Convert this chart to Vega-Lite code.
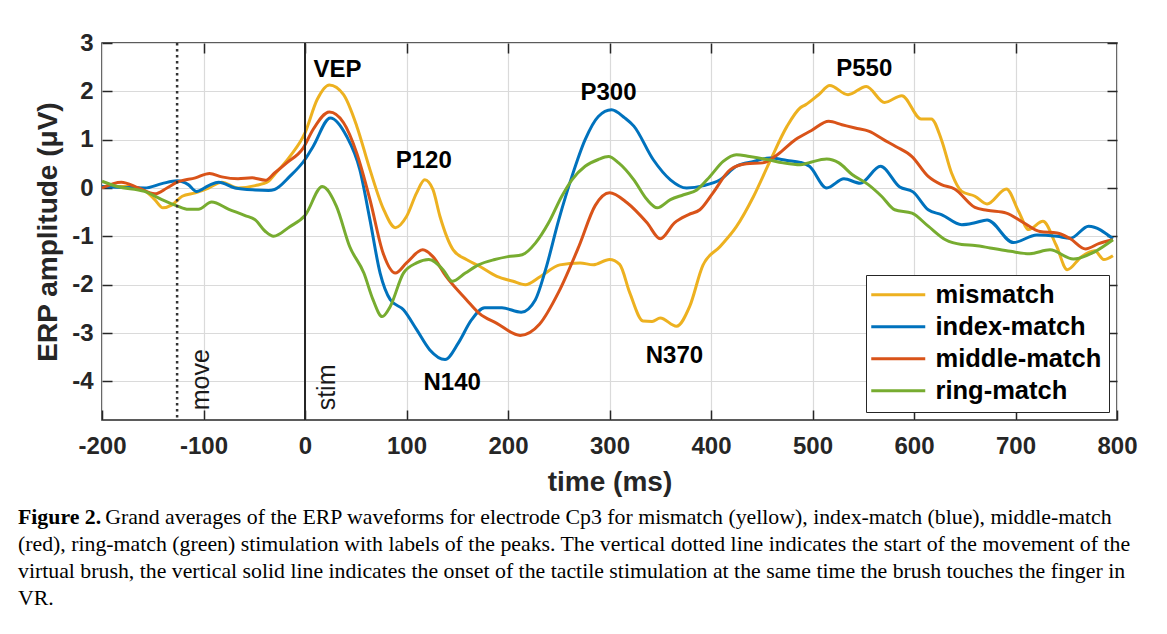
{
  "$schema": "https://vega.github.io/schema/vega-lite/v6.json",
  "autosize": "none",
  "width": 1015,
  "height": 377,
  "padding": {"left": 102, "top": 43, "right": 50, "bottom": 214},
  "background": "white",
  "config": {
    "view": {"stroke": "#262626", "strokeWidth": 1.5},
    "axis": {
      "labelFont": "Liberation Sans", "labelFontWeight": "bold", "labelFontSize": 24, "labelColor": "#262626",
      "titleFont": "Liberation Sans", "titleFontWeight": "bold", "titleFontSize": 28, "titleColor": "#262626",
      "tickColor": "#262626", "tickSize": -10, "tickWidth": 1.5, "domain": false,
      "gridColor": "#dadada", "gridWidth": 1.2, "labelFlush": false, "labelOverlap": false,
      "labelExpr": "replace(datum.label, '−', '-')"
    },
    "legend": {
      "orient": "bottom-right", "offset": 8,
      "labelFont": "Liberation Sans", "labelFontWeight": "bold", "labelFontSize": 25.5, "labelColor": "#000000", "labelLimit": 400,
      "symbolType": "M-1.45,0H3.95", "symbolSize": 400, "symbolStrokeWidth": 3,
      "fillColor": "white", "strokeColor": "#262626",
      "padding": 7, "rowPadding": 5, "labelOffset": 37
    }
  },
  "title": {
    "text": "Figure 2.",
    "subtitle": [
      "\u200b\u00a0\u00a0\u00a0\u00a0\u00a0\u00a0\u00a0\u00a0\u00a0\u00a0\u00a0\u00a0\u00a0\u00a0\u00a0\u00a0Grand averages of the ERP waveforms for electrode Cp3 for mismatch (yellow), index-match (blue), middle-match",
      "(red), ring-match (green) stimulation with labels of the peaks. The vertical dotted line indicates the start of the movement of the",
      "virtual brush, the vertical solid line indicates the onset of the tactile stimulation at the same time the brush touches the finger in",
      "VR."
    ],
    "orient": "bottom", "anchor": "start", "frame": "group", "dx": -84, "offset": 11,
    "font": "Liberation Serif", "fontSize": 21.8, "fontWeight": "bold", "color": "#000000",
    "subtitleFont": "Liberation Serif", "subtitleFontSize": 21.8, "subtitleFontWeight": "normal", "subtitleColor": "#000000",
    "subtitleLineHeight": 27, "subtitlePadding": -21.8
  },
  "datasets": {
    "erp": [
      {"series":"mismatch","t":-200,"v":0.03},{"series":"mismatch","t":-174,"v":0.03},{"series":"mismatch","t":-157,"v":-0.07},{"series":"mismatch","t":-148,"v":-0.24},{"series":"mismatch","t":-140,"v":-0.41},{"series":"mismatch","t":-131,"v":-0.35},{"series":"mismatch","t":-121,"v":-0.17},{"series":"mismatch","t":-108,"v":-0.1},{"series":"mismatch","t":-95,"v":0.0},{"series":"mismatch","t":-82,"v":0.12},{"series":"mismatch","t":-66,"v":0.0},{"series":"mismatch","t":-49,"v":0.05},{"series":"mismatch","t":-36,"v":0.14},{"series":"mismatch","t":-30,"v":0.28},{"series":"mismatch","t":-15,"v":0.65},{"series":"mismatch","t":0,"v":1.14},{"series":"mismatch","t":12,"v":1.83},{"series":"mismatch","t":24,"v":2.13},{"series":"mismatch","t":38,"v":1.93},{"series":"mismatch","t":51,"v":1.28},{"series":"mismatch","t":64,"v":0.38},{"series":"mismatch","t":77,"v":-0.42},{"series":"mismatch","t":89,"v":-0.82},{"series":"mismatch","t":100,"v":-0.59},{"series":"mismatch","t":110,"v":-0.1},{"series":"mismatch","t":118,"v":0.17},{"series":"mismatch","t":126,"v":-0.03},{"series":"mismatch","t":133,"v":-0.59},{"series":"mismatch","t":146,"v":-1.28},{"series":"mismatch","t":159,"v":-1.48},{"series":"mismatch","t":172,"v":-1.62},{"series":"mismatch","t":189,"v":-1.83},{"series":"mismatch","t":205,"v":-1.93},{"series":"mismatch","t":217,"v":-2.0},{"series":"mismatch","t":232,"v":-1.83},{"series":"mismatch","t":251,"v":-1.59},{"series":"mismatch","t":271,"v":-1.55},{"series":"mismatch","t":284,"v":-1.59},{"series":"mismatch","t":300,"v":-1.48},{"series":"mismatch","t":310,"v":-1.58},{"series":"mismatch","t":320,"v":-2.17},{"series":"mismatch","t":333,"v":-2.75},{"series":"mismatch","t":342,"v":-2.76},{"series":"mismatch","t":350,"v":-2.69},{"series":"mismatch","t":366,"v":-2.86},{"series":"mismatch","t":379,"v":-2.45},{"series":"mismatch","t":392,"v":-1.6},{"series":"mismatch","t":409,"v":-1.21},{"series":"mismatch","t":425,"v":-0.8},{"series":"mismatch","t":442,"v":-0.17},{"series":"mismatch","t":458,"v":0.55},{"series":"mismatch","t":475,"v":1.28},{"series":"mismatch","t":488,"v":1.66},{"series":"mismatch","t":493,"v":1.72},{"series":"mismatch","t":506,"v":1.93},{"series":"mismatch","t":517,"v":2.12},{"series":"mismatch","t":535,"v":1.93},{"series":"mismatch","t":553,"v":2.1},{"series":"mismatch","t":571,"v":1.77},{"series":"mismatch","t":588,"v":1.91},{"series":"mismatch","t":607,"v":1.43},{"series":"mismatch","t":617,"v":1.43},{"series":"mismatch","t":627,"v":1.0},{"series":"mismatch","t":637,"v":0.31},{"series":"mismatch","t":647,"v":-0.07},{"series":"mismatch","t":660,"v":-0.17},{"series":"mismatch","t":672,"v":-0.33},{"series":"mismatch","t":691,"v":-0.02},{"series":"mismatch","t":703,"v":-0.48},{"series":"mismatch","t":713,"v":-0.86},{"series":"mismatch","t":727,"v":-0.69},{"series":"mismatch","t":740,"v":-1.18},{"series":"mismatch","t":751,"v":-1.69},{"series":"mismatch","t":765,"v":-1.42},{"series":"mismatch","t":778,"v":-1.3},{"series":"mismatch","t":787,"v":-1.48},{"series":"mismatch","t":796,"v":-1.4},

      {"series":"index-match","t":-200,"v":0.03},{"series":"index-match","t":-158,"v":0.0},{"series":"index-match","t":-141,"v":0.09},{"series":"index-match","t":-126,"v":0.15},{"series":"index-match","t":-115,"v":0.07},{"series":"index-match","t":-107,"v":-0.07},{"series":"index-match","t":-95,"v":0.05},{"series":"index-match","t":-85,"v":0.12},{"series":"index-match","t":-69,"v":0.0},{"series":"index-match","t":-49,"v":-0.04},{"series":"index-match","t":-36,"v":-0.05},{"series":"index-match","t":-30,"v":-0.03},{"series":"index-match","t":-15,"v":0.24},{"series":"index-match","t":0,"v":0.59},{"series":"index-match","t":8,"v":0.86},{"series":"index-match","t":25,"v":1.45},{"series":"index-match","t":41,"v":1.07},{"series":"index-match","t":54,"v":0.38},{"series":"index-match","t":64,"v":-0.66},{"series":"index-match","t":74,"v":-1.76},{"series":"index-match","t":84,"v":-2.31},{"series":"index-match","t":97,"v":-2.52},{"series":"index-match","t":110,"v":-2.93},{"series":"index-match","t":123,"v":-3.35},{"series":"index-match","t":138,"v":-3.55},{"series":"index-match","t":151,"v":-3.21},{"series":"index-match","t":164,"v":-2.73},{"series":"index-match","t":177,"v":-2.48},{"series":"index-match","t":194,"v":-2.48},{"series":"index-match","t":213,"v":-2.57},{"series":"index-match","t":227,"v":-2.31},{"series":"index-match","t":237,"v":-1.69},{"series":"index-match","t":250,"v":-0.66},{"series":"index-match","t":263,"v":0.24},{"series":"index-match","t":276,"v":1.0},{"series":"index-match","t":289,"v":1.48},{"series":"index-match","t":302,"v":1.62},{"series":"index-match","t":315,"v":1.45},{"series":"index-match","t":324,"v":1.28},{"series":"index-match","t":343,"v":0.59},{"series":"index-match","t":360,"v":0.17},{"series":"index-match","t":376,"v":0.0},{"series":"index-match","t":393,"v":0.05},{"series":"index-match","t":409,"v":0.17},{"series":"index-match","t":425,"v":0.45},{"series":"index-match","t":442,"v":0.55},{"series":"index-match","t":458,"v":0.62},{"series":"index-match","t":475,"v":0.57},{"series":"index-match","t":488,"v":0.53},{"series":"index-match","t":497,"v":0.45},{"series":"index-match","t":514,"v":0.0},{"series":"index-match","t":531,"v":0.19},{"series":"index-match","t":547,"v":0.1},{"series":"index-match","t":567,"v":0.45},{"series":"index-match","t":586,"v":0.02},{"series":"index-match","t":599,"v":-0.08},{"series":"index-match","t":614,"v":-0.45},{"series":"index-match","t":627,"v":-0.55},{"series":"index-match","t":647,"v":-0.76},{"series":"index-match","t":660,"v":-0.72},{"series":"index-match","t":672,"v":-0.66},{"series":"index-match","t":698,"v":-1.13},{"series":"index-match","t":721,"v":-0.97},{"series":"index-match","t":741,"v":-1.0},{"series":"index-match","t":754,"v":-1.04},{"series":"index-match","t":772,"v":-0.79},{"series":"index-match","t":796,"v":-1.05},

      {"series":"middle-match","t":-200,"v":0.0},{"series":"middle-match","t":-181,"v":0.12},{"series":"middle-match","t":-164,"v":0.0},{"series":"middle-match","t":-148,"v":-0.12},{"series":"middle-match","t":-136,"v":0.0},{"series":"middle-match","t":-126,"v":0.12},{"series":"middle-match","t":-108,"v":0.21},{"series":"middle-match","t":-94,"v":0.3},{"series":"middle-match","t":-82,"v":0.23},{"series":"middle-match","t":-66,"v":0.19},{"series":"middle-match","t":-52,"v":0.21},{"series":"middle-match","t":-39,"v":0.16},{"series":"middle-match","t":-30,"v":0.31},{"series":"middle-match","t":-18,"v":0.52},{"series":"middle-match","t":-2,"v":0.82},{"series":"middle-match","t":8,"v":1.21},{"series":"middle-match","t":24,"v":1.57},{"series":"middle-match","t":38,"v":1.35},{"series":"middle-match","t":51,"v":0.72},{"series":"middle-match","t":64,"v":-0.24},{"series":"middle-match","t":77,"v":-1.35},{"series":"middle-match","t":89,"v":-1.76},{"series":"middle-match","t":100,"v":-1.55},{"series":"middle-match","t":116,"v":-1.28},{"series":"middle-match","t":126,"v":-1.42},{"series":"middle-match","t":139,"v":-1.83},{"series":"middle-match","t":159,"v":-2.31},{"series":"middle-match","t":172,"v":-2.6},{"series":"middle-match","t":189,"v":-2.8},{"series":"middle-match","t":212,"v":-3.05},{"series":"middle-match","t":231,"v":-2.82},{"series":"middle-match","t":250,"v":-2.15},{"series":"middle-match","t":270,"v":-1.2},{"series":"middle-match","t":286,"v":-0.36},{"series":"middle-match","t":300,"v":-0.1},{"series":"middle-match","t":317,"v":-0.3},{"series":"middle-match","t":337,"v":-0.72},{"series":"middle-match","t":350,"v":-1.05},{"series":"middle-match","t":364,"v":-0.72},{"series":"middle-match","t":378,"v":-0.55},{"series":"middle-match","t":389,"v":-0.45},{"series":"middle-match","t":402,"v":-0.1},{"series":"middle-match","t":419,"v":0.38},{"series":"middle-match","t":435,"v":0.5},{"series":"middle-match","t":451,"v":0.52},{"series":"middle-match","t":466,"v":0.7},{"series":"middle-match","t":483,"v":1.0},{"series":"middle-match","t":499,"v":1.19},{"series":"middle-match","t":516,"v":1.38},{"series":"middle-match","t":529,"v":1.31},{"series":"middle-match","t":542,"v":1.24},{"series":"middle-match","t":556,"v":1.17},{"series":"middle-match","t":570,"v":1.0},{"series":"middle-match","t":582,"v":0.86},{"series":"middle-match","t":598,"v":0.65},{"series":"middle-match","t":614,"v":0.24},{"series":"middle-match","t":627,"v":0.07},{"series":"middle-match","t":640,"v":-0.02},{"series":"middle-match","t":660,"v":-0.4},{"series":"middle-match","t":672,"v":-0.46},{"series":"middle-match","t":691,"v":-0.52},{"series":"middle-match","t":708,"v":-0.72},{"series":"middle-match","t":724,"v":-0.9},{"series":"middle-match","t":741,"v":-0.93},{"series":"middle-match","t":754,"v":-1.05},{"series":"middle-match","t":769,"v":-1.26},{"series":"middle-match","t":782,"v":-1.15},{"series":"middle-match","t":796,"v":-1.07},

      {"series":"ring-match","t":-200,"v":0.14},{"series":"ring-match","t":-185,"v":0.03},{"series":"ring-match","t":-158,"v":-0.07},{"series":"ring-match","t":-141,"v":-0.24},{"series":"ring-match","t":-126,"v":-0.37},{"series":"ring-match","t":-115,"v":-0.44},{"series":"ring-match","t":-105,"v":-0.44},{"series":"ring-match","t":-92,"v":-0.29},{"series":"ring-match","t":-75,"v":-0.44},{"series":"ring-match","t":-59,"v":-0.57},{"series":"ring-match","t":-49,"v":-0.66},{"series":"ring-match","t":-39,"v":-0.9},{"series":"ring-match","t":-31,"v":-1.0},{"series":"ring-match","t":-15,"v":-0.8},{"series":"ring-match","t":0,"v":-0.57},{"series":"ring-match","t":17,"v":0.03},{"series":"ring-match","t":31,"v":-0.38},{"series":"ring-match","t":44,"v":-1.21},{"series":"ring-match","t":58,"v":-1.76},{"series":"ring-match","t":67,"v":-2.31},{"series":"ring-match","t":76,"v":-2.66},{"series":"ring-match","t":84,"v":-2.45},{"series":"ring-match","t":97,"v":-1.76},{"series":"ring-match","t":110,"v":-1.55},{"series":"ring-match","t":122,"v":-1.48},{"series":"ring-match","t":136,"v":-1.69},{"series":"ring-match","t":145,"v":-1.93},{"series":"ring-match","t":158,"v":-1.76},{"series":"ring-match","t":171,"v":-1.59},{"series":"ring-match","t":187,"v":-1.48},{"series":"ring-match","t":200,"v":-1.42},{"series":"ring-match","t":214,"v":-1.38},{"series":"ring-match","t":227,"v":-1.14},{"series":"ring-match","t":240,"v":-0.72},{"series":"ring-match","t":253,"v":-0.17},{"series":"ring-match","t":263,"v":0.17},{"series":"ring-match","t":276,"v":0.45},{"series":"ring-match","t":289,"v":0.59},{"series":"ring-match","t":299,"v":0.65},{"series":"ring-match","t":309,"v":0.52},{"series":"ring-match","t":324,"v":0.17},{"series":"ring-match","t":337,"v":-0.24},{"series":"ring-match","t":347,"v":-0.41},{"series":"ring-match","t":360,"v":-0.24},{"series":"ring-match","t":373,"v":-0.14},{"series":"ring-match","t":386,"v":-0.04},{"series":"ring-match","t":399,"v":0.24},{"series":"ring-match","t":412,"v":0.55},{"series":"ring-match","t":425,"v":0.69},{"series":"ring-match","t":438,"v":0.65},{"series":"ring-match","t":455,"v":0.59},{"series":"ring-match","t":471,"v":0.52},{"series":"ring-match","t":488,"v":0.48},{"series":"ring-match","t":496,"v":0.52},{"series":"ring-match","t":514,"v":0.6},{"series":"ring-match","t":526,"v":0.52},{"series":"ring-match","t":539,"v":0.28},{"series":"ring-match","t":555,"v":0.07},{"series":"ring-match","t":568,"v":-0.17},{"series":"ring-match","t":581,"v":-0.45},{"series":"ring-match","t":598,"v":-0.52},{"series":"ring-match","t":614,"v":-0.79},{"series":"ring-match","t":631,"v":-1.07},{"series":"ring-match","t":647,"v":-1.17},{"series":"ring-match","t":660,"v":-1.19},{"series":"ring-match","t":675,"v":-1.24},{"series":"ring-match","t":695,"v":-1.31},{"series":"ring-match","t":714,"v":-1.36},{"series":"ring-match","t":734,"v":-1.28},{"series":"ring-match","t":757,"v":-1.47},{"series":"ring-match","t":777,"v":-1.33},{"series":"ring-match","t":796,"v":-1.07}
    ],
    "peaks": [
      {"label":"VEP","t":32,"v":2.45},{"label":"P120","t":117,"v":0.55},{"label":"N140","t":145,"v":-4.03},
      {"label":"P300","t":299,"v":1.97},{"label":"N370","t":364,"v":-3.47},{"label":"P550","t":551,"v":2.46}
    ],
    "events": [
      {"event":"move","t":-126,"v":-4.6,"tl":-102},
      {"event":"stim","t":0,"v":-4.6,"tl":22}
    ]
  },
  "layer": [
    {
      "data": {"name": "erp"},
      "mark": {"type": "line", "strokeWidth": 3, "interpolate": "monotone"},
      "encoding": {
        "x": {"field": "t", "type": "quantitative", "scale": {"domain": [-200, 800], "nice": false},
              "axis": {"orient": "bottom", "values": [-200,-100,0,100,200,300,400,500,600,700,800], "title": "time (ms)", "grid": true, "labelPadding": 24, "titlePadding": 10}},
        "y": {"field": "v", "type": "quantitative", "scale": {"domain": [-4.8, 3], "nice": false, "zero": false},
              "axis": {"orient": "left", "values": [-4,-3,-2,-1,0,1,2,3], "title": "ERP amplitude (μV)", "grid": true, "labelPadding": 19, "titlePadding": 9}},
        "color": {"field": "series", "type": "nominal",
                  "scale": {"domain": ["mismatch","index-match","middle-match","ring-match"], "range": ["#EDB120","#0072BD","#D95319","#77AC30"]},
                  "legend": {"title": null}},
        "order": {"field": "t", "type": "quantitative"}
      }
    },
    {
      "data": {"name": "events"},
      "transform": [{"filter": "datum.event === 'move'"}],
      "mark": {"type": "rule", "strokeWidth": 2.5, "strokeDash": [2.5, 3.5], "color": "#333333"},
      "encoding": {
        "x": {"field": "t", "type": "quantitative",
              "axis": {"orient": "top", "values": [-100,0,100,200,300,400,500,600,700], "labels": false, "grid": false, "title": null}}
      }
    },
    {
      "data": {"name": "events"},
      "transform": [{"filter": "datum.event === 'stim'"}],
      "mark": {"type": "rule", "strokeWidth": 2, "color": "#262626"},
      "encoding": {
        "x": {"field": "t", "type": "quantitative", "axis": null}
      }
    },
    {
      "data": {"name": "peaks"},
      "mark": {"type": "text", "font": "Liberation Sans", "fontWeight": "bold", "fontSize": 24, "color": "#000000", "baseline": "middle", "align": "center"},
      "encoding": {
        "x": {"field": "t", "type": "quantitative", "axis": null},
        "y": {"field": "v", "type": "quantitative",
              "axis": {"orient": "right", "values": [-4,-3,-2,-1,0,1,2,3], "labels": false, "grid": false, "title": null}},
        "text": {"field": "label"}
      }
    },
    {
      "data": {"name": "events"},
      "mark": {"type": "text", "font": "Liberation Sans", "fontSize": 25, "color": "#1a1a1a", "baseline": "middle", "align": "left", "angle": 270},
      "encoding": {
        "x": {"field": "tl", "type": "quantitative", "axis": null},
        "y": {"field": "v", "type": "quantitative", "axis": null},
        "text": {"field": "event"}
      }
    }
  ],
  "resolve": {"axis": {"x": "independent", "y": "independent"}}
}
